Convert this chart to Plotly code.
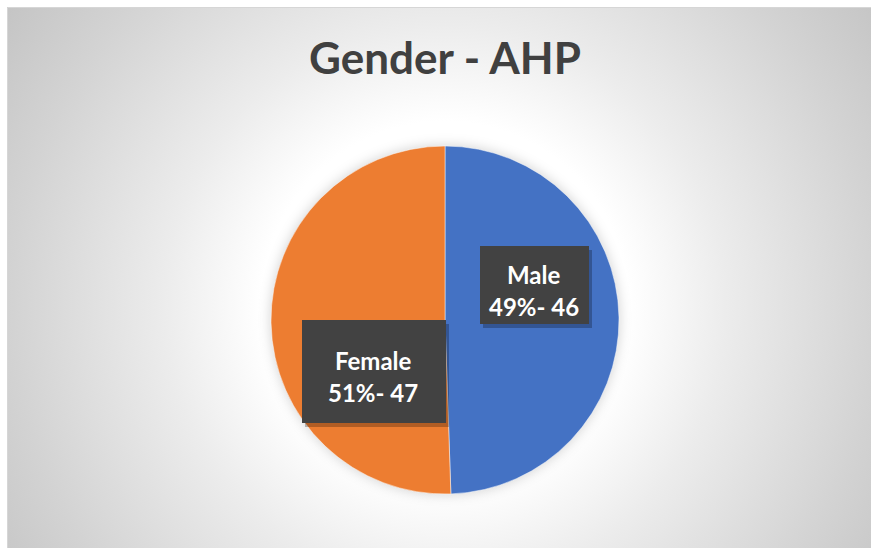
import base64
import plotly.graph_objects as go

# ---- data ----
labels = ["Male", "Female"]
values = [46, 47]
colors = ["#4472C4", "#ED7D31"]
title_text = "Gender - AHP"

W, H = 871, 548
# pie geometry (pixels)
cx, cy, R = 445, 320, 174
# chart area starts here (white strip above/left)
ax0, ay0 = 7, 7

total = sum(values)
pcts = [round(v * 100 / total) for v in values]

def px(x):
    return x / W

def py(y):
    return 1 - y / H

# ---- background: radial gradient + soft pie shadow (decoration) ----
bw, bh = W - ax0, H - ay0
gx, gy = cx - ax0, cy - ay0
svg = f'''<svg xmlns="http://www.w3.org/2000/svg" width="{bw}" height="{bh}" viewBox="0 0 {bw} {bh}">
<defs>
<radialGradient id="g" gradientUnits="userSpaceOnUse" cx="{gx}" cy="{gy-15}" r="540">
<stop offset="0" stop-color="#ffffff"/>
<stop offset="0.34" stop-color="#ffffff"/>
<stop offset="0.52" stop-color="#ececec"/>
<stop offset="0.8" stop-color="#d3d3d3"/>
<stop offset="1" stop-color="#c3c3c3"/>
</radialGradient>
<filter id="b" x="-30%" y="-30%" width="160%" height="160%"><feGaussianBlur stdDeviation="6"/></filter>
</defs>
<rect width="{bw}" height="{bh}" fill="url(#g)"/>
<circle cx="{gx}" cy="{gy}" r="{R+1}" fill="#000" fill-opacity="0.16" filter="url(#b)"/>
<path d="M0.5,{bh} L0.5,0.5 L{bw},0.5" fill="none" stroke="#d6d6d6"/>
</svg>'''
src = "data:image/svg+xml;base64," + base64.b64encode(svg.encode()).decode()

fig = go.Figure()
fig.add_trace(go.Pie(
    labels=labels,
    values=values,
    marker=dict(colors=colors, line=dict(color="rgba(255,255,255,0.6)", width=0.8)),
    sort=False,
    direction="clockwise",
    rotation=0,
    textinfo="none",
    hoverinfo="skip",
    showlegend=False,
    domain=dict(x=[px(cx - R), px(cx + R)], y=[py(cy + R), py(cy - R)]),
))

# ---- label boxes (pixels) ----
boxes = [
    (480, 246, 589, 324, 534, 274, 306),   # Male
    (302, 320, 446, 423, 373, 360, 392),   # Female
]
shapes = []
annotations = []
for i, (x0, y0, x1, y1, tx, ty1, ty2) in enumerate(boxes):
    shapes.append(dict(type="rect", xref="paper", yref="paper",
                       x0=px(x0 + 3), x1=px(x1 + 3), y0=py(y1 + 4), y1=py(y0 + 4),
                       fillcolor="rgba(0,0,0,0.25)", line=dict(width=0)))
    shapes.append(dict(type="rect", xref="paper", yref="paper",
                       x0=px(x0), x1=px(x1), y0=py(y1), y1=py(y0),
                       fillcolor="#424242", line=dict(width=0)))
    annotations.append(dict(text=f"<b>{labels[i]}</b>", x=px(tx), y=py(ty1),
                            xref="paper", yref="paper", showarrow=False,
                            xanchor="center", yanchor="middle",
                            font=dict(family="Lato", size=24, color="white")))
    annotations.append(dict(text=f"<b>{pcts[i]}%- {values[i]}</b>", x=px(tx), y=py(ty2),
                            xref="paper", yref="paper", showarrow=False,
                            xanchor="center", yanchor="middle",
                            font=dict(family="Lato", size=24, color="white")))

annotations.append(dict(text=f"<b>{title_text}</b>", x=px(445), y=py(57),
                        xref="paper", yref="paper", showarrow=False,
                        xanchor="center", yanchor="middle",
                        font=dict(family="Lato", size=44, color="#404040")))

fig.update_layout(
    width=W, height=H,
    margin=dict(l=0, r=0, t=0, b=0),
    paper_bgcolor="white",
    plot_bgcolor="rgba(0,0,0,0)",
    images=[dict(source=src, xref="paper", yref="paper",
                 x=px(ax0), y=py(ay0), sizex=bw / W, sizey=bh / H,
                 xanchor="left", yanchor="top", sizing="stretch", layer="below")],
    shapes=shapes,
    annotations=annotations,
)

fig.write_html("out.html",
               config={"displayModeBar": False, "staticPlot": True},
               post_script="document.body.style.margin='0';document.body.style.overflow='hidden';")
